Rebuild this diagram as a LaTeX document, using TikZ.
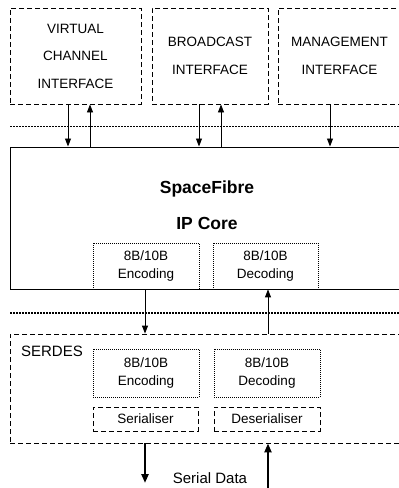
\documentclass[tikz,border=0pt]{standalone}
\usepackage{fontspec}
\setmainfont{Liberation Sans}
\usetikzlibrary{arrows.meta}
\tikzset{
  dbox/.style={draw, dash pattern=on 5pt off 3pt, line width=0.9pt, inner sep=0pt, align=center},
  dotbox/.style={draw, dash pattern=on 1pt off 1pt, line width=0.8pt, inner sep=0pt, align=center},
  corebox/.style={draw, line width=1pt, inner sep=0pt},
  sep/.style={dash pattern=on 2pt off 1pt, line width=1.5pt},
  arr/.style={line width=0.9pt, -{Triangle[length=8pt,width=6pt]}},
  thickarr/.style={line width=2.2pt, -{Triangle[length=9pt,width=7pt]}},
  txt/.style={font=\fontsize{13.5}{27.5}\selectfont},
  txtb/.style={font=\fontsize{13.5}{18.5}\selectfont},
  bold/.style={font=\fontsize{17.5}{20}\selectfont\bfseries},
  big/.style={font=\fontsize{15}{18}\selectfont}
}
\begin{document}
\begin{tikzpicture}[x=1pt,y=-1pt]
\useasboundingbox (0,0) rectangle (399,488);
\clip (0,0) rectangle (399,488);
% top interface boxes
\node[dbox, txt, minimum width=131, minimum height=96] (vc) at (75.5,56) {VIRTUAL\\CHANNEL\\INTERFACE};
\node[dbox, txt, minimum width=116, minimum height=96] (bc) at (210,56) {BROADCAST\\INTERFACE};
\node[dbox, txt, minimum width=123, minimum height=96] (mg) at (339.5,56) {MANAGEMENT\\INTERFACE};
% separators
\coordinate (s1a) at (10,126.5);
\coordinate (s1b) at (410,126.5);
\coordinate (s2a) at (10,313);
\coordinate (s2b) at (410,313);
\draw[sep] (s1a) -- (s1b);
\draw[sep] (s2a) -- (s2b);
% core
\node[corebox, minimum width=394, minimum height=142] (core) at (207,218) {};
\node[bold] (t1) at (207,189) {SpaceFibre};
\node[bold] (t2) at (207,223) {IP Core};
\node[dotbox, txtb, minimum width=106, minimum height=46] (enc1) at (146,266) {8B/10B\\Encoding};
\node[dotbox, txtb, minimum width=105, minimum height=46] (dec1) at (265.5,266) {8B/10B\\Decoding};
% serdes
\node[dbox, minimum width=394, minimum height=109] (serdes) at (207,388.5) {};
\node[big] (sl) at (52,351) {SERDES};
\node[dotbox, txtb, minimum width=106, minimum height=48] (enc2) at (146,373) {8B/10B\\Encoding};
\node[dotbox, txtb, minimum width=106, minimum height=48] (dec2) at (267,373) {8B/10B\\Decoding};
\node[dbox, txtb, minimum width=105, minimum height=24] (ser) at (145.5,419) {Serialiser};
\node[dbox, txtb, minimum width=106, minimum height=24] (deser) at (267,419) {Deserialiser};
% arrow x positions
\coordinate (x1) at (68,0);
\coordinate (x2) at (90,0);
\coordinate (x3) at (199,0);
\coordinate (x4) at (221,0);
\coordinate (x5) at (330,0);
\coordinate (x6) at (145,0);
\coordinate (x7) at (268,0);
\coordinate (bot) at (0,488);
\coordinate (tipd) at (0,483);
\draw[arr] (x1 |- vc.south) -- (x1 |- core.north);
\draw[arr] (x2 |- core.north) -- (x2 |- vc.south);
\draw[arr] (x3 |- bc.south) -- (x3 |- core.north);
\draw[arr] (x4 |- core.north) -- (x4 |- bc.south);
\draw[arr] (x5 |- mg.south) -- (x5 |- core.north);
\draw[arr] (x6 |- enc1.south) -- (x6 |- serdes.north);
\draw[arr] (x7 |- serdes.north) -- (x7 |- dec1.south);
\draw[thickarr] (x6 |- serdes.south) -- (x6 |- tipd);
\draw[thickarr] (x7 |- bot) -- (x7 |- serdes.south);
\node[big] (sd) at (210,478) {Serial Data};
\end{tikzpicture}
\end{document}
